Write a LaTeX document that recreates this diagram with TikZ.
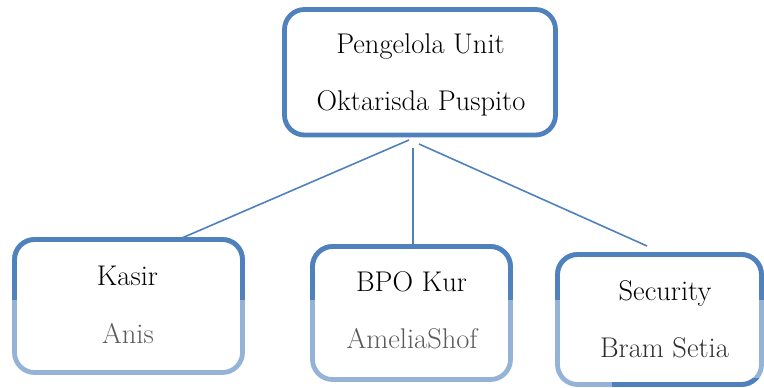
\documentclass[tikz,border=0pt]{standalone}
\usepackage{fontspec}
\definecolor{darkb}{HTML}{4F81BD}
\definecolor{lightb}{HTML}{95B3D7}
\definecolor{namegray}{HTML}{5A5A5A}
\definecolor{namedark}{HTML}{2E2E2E}
\begin{document}
\begin{tikzpicture}[x=1pt,y=-1pt,
  box/.style={rectangle,rounded corners=20pt,inner sep=0pt,outer sep=0pt},
  rim/.style={line width=4.8pt,rounded corners=20pt},
  txt/.style={anchor=base,inner sep=0pt,font=\fontsize{28.5}{34}\selectfont},
  conn/.style={draw=darkb,line width=1.6pt}]
\useasboundingbox (0,0) rectangle (764,388);
% boxes
\node[box,minimum width=271pt,minimum height=125.5pt] (top) at (420,72.25) {};
\node[box,minimum width=228pt,minimum height=133pt] (kasir) at (128.5,306) {};
\node[box,minimum width=198pt,minimum height=133pt] (bpo) at (411.5,313) {};
\node[box,minimum width=204pt,minimum height=130pt] (sec) at (659.5,319.5) {};
% light rims for lower boxes
\foreach \n in {kasir,bpo,sec}
  \draw[rim,draw=lightb] (\n.south west) rectangle (\n.north east);
% dark upper parts
\begin{scope}
  \clip (0,0) rectangle (764,299);
  \foreach \n in {kasir,bpo,sec}
    \draw[rim,draw=darkb] (\n.south west) rectangle (\n.north east);
\end{scope}
\begin{scope}
  \clip (612,378) rectangle (764,388);
  \draw[rim,draw=darkb] (sec.south west) rectangle (sec.north east);
\end{scope}
\draw[rim,draw=darkb] (top.south west) rectangle (top.north east);
% texts
\node[txt] (t1) at (420.5,53) {Pengelola Unit};
\node[txt] (t2) at (421,110) {Oktarisda Puspito};
\node[txt] (k1) at (127.5,285) {Kasir};
\node[txt,text=namegray] (k2) at (128,343) {Anis};
\node[txt] (b1) at (411.5,291) {BPO Kur};
\node[txt,text=namegray] (b2) at (412,348) {AmeliaShof};
\node[txt] (s1) at (665,300) {Security};
\node[txt,text=namedark] (s2) at (664.5,357) {Bram Setia};
% connectors
\coordinate (ca) at (409,140);
\coordinate (cb) at (413,148);
\coordinate (cc) at (419,144);
\coordinate (ka) at (175,241);
\coordinate (ba) at (413,247);
\coordinate (sa) at (647,246);
\draw[conn] (ca) -- (ka);
\draw[conn] (cb) -- (ba);
\draw[conn] (cc) -- (sa);
\end{tikzpicture}
\end{document}
